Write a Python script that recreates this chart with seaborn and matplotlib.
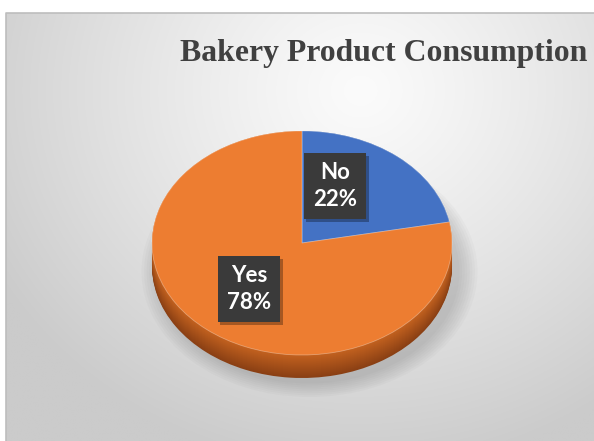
import numpy as np
import matplotlib
matplotlib.use("Agg")
import matplotlib.pyplot as plt
import matplotlib.patheffects as pe
import seaborn as sns
from matplotlib.patches import Ellipse
from matplotlib.colors import to_rgb

sns.set_theme(style="white")

# ---- data ----
categories = ["No", "Yes"]
values = [22, 78]
pct_labels = ["22%", "78%"]
title = "Bakery Product Consumption"

colors = ["#4472C4", "#ED7D31"]

W, H = 594, 441
fig = plt.figure(figsize=(W / 100, H / 100), dpi=100)
fig.patch.set_facecolor("white")

# ---- background panel with radial gradient ----
bx0, by_top = 6, 13
bg = fig.add_axes([bx0 / W, 0, 1 - bx0 / W, 1 - by_top / H])
bg.set_axis_off()
ny, nx = 300, 400
yy, xx = np.mgrid[0:ny, 0:nx]
px = bx0 + xx / nx * (W - bx0)
py = by_top + yy / ny * (H - by_top)
cxg, cyg = 360, 90
r = np.sqrt(((px - cxg) / 420) ** 2 + ((py - cyg) / 380) ** 2)
r = np.clip(r, 0, 1)
inner = np.array(to_rgb("#FBFBFB"))
outer = np.array(to_rgb("#CBCBCB"))
img = inner[None, None, :] * (1 - r[..., None] ** 1.2) + outer[None, None, :] * (r[..., None] ** 1.2)
bg.imshow(img, extent=[0, 1, 0, 1], aspect="auto", origin="upper")
bg.set_xlim(0, 1)
bg.set_ylim(0, 1)
bg.plot([0, 0, 1], [0, 1, 1], color="#BDBDBD", lw=1.2, transform=bg.transAxes, clip_on=False)

# ---- pie axes (ellipse via unequal units) ----
cx, cy = 302, 243      # ellipse centre in pixels
a_px, b_px = 150, 112  # semi-axes in pixels
x0, x1 = -1.3, 1.3
y0, y1 = -1.6, 1.15
left = (cx + x0 * a_px) / W
right = (cx + x1 * a_px) / W
top = (cy - y1 * b_px)
bottom = (cy - y0 * b_px)
ax = fig.add_axes([left, 1 - bottom / H, right - left, (bottom - top) / H])
ax.patch.set_alpha(0)

depth = 23 / b_px

# soft shadow
for s in np.linspace(1.12, 1.0, 8):
    ax.add_patch(Ellipse((0.05, -depth - 0.05), 2 * s, 2 * s, facecolor="#6a6a6a",
                         alpha=0.04, edgecolor="none", zorder=0))

# side layers (3-D depth)
side_cols = [["#2F5597", "#8A4014"], ["#3A62A8", "#C4621F"]]
n_layers = 24
for k, d in enumerate(np.linspace(depth, 0.0, n_layers)):
    t = k / (n_layers - 1)
    c_no = np.array(to_rgb(side_cols[0][0])) * (1 - t) + np.array(to_rgb(side_cols[1][0])) * t
    c_yes = np.array(to_rgb(side_cols[0][1])) * (1 - t) + np.array(to_rgb(side_cols[1][1])) * t
    ax.pie(values, colors=[c_no, c_yes], startangle=90, counterclock=False,
           radius=1.0, center=(0, -d), frame=True,
           wedgeprops=dict(linewidth=0, edgecolor="none"))

# top surface
wedges, _ = ax.pie(values, colors=colors, startangle=90, counterclock=False,
                   radius=1.0, center=(0, 0), frame=True,
                   wedgeprops=dict(linewidth=0.6, edgecolor="#ffffff55"))

ax.set_aspect("auto")
ax.set_xlim(x0, x1)
ax.set_ylim(y0, y1)
ax.set_axis_off()

# data labels
label_pos = [((335 - cx) / a_px, (cy - 186) / b_px), ((249 - cx) / a_px, (cy - 289) / b_px)]
for (lx, ly), cat, p in zip(label_pos, categories, pct_labels):
    t = ax.text(lx, ly, f"{cat}\n{p}", ha="center", va="center",
                fontsize=16, fontweight="bold", family="Lato", color="white",
                linespacing=1.3,
                bbox=dict(boxstyle="square,pad=0.42", facecolor="#3A3A3A",
                          edgecolor="none"), zorder=10)
    t.get_bbox_patch().set_path_effects(
        [pe.SimplePatchShadow(offset=(2, -2), shadow_rgbFace="#000000", alpha=0.3), pe.Normal()])

# title
fig.text(384 / W, 1 - 54 / H, title, ha="center", va="center",
         fontsize=22.9, fontweight="bold", family="Liberation Serif", color="#404040")

fig.savefig("out.png", dpi=100, facecolor="white")
